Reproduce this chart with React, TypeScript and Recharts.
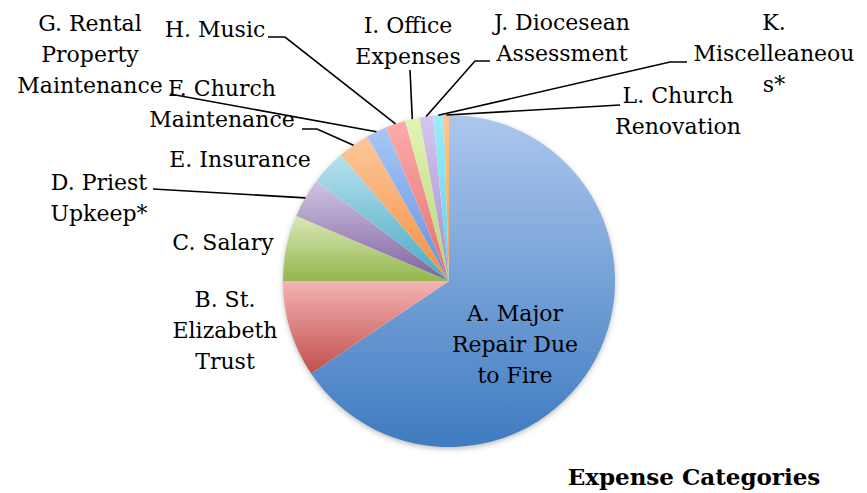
import { PieChart, Pie, Cell } from "recharts";

const categories = [
  "A. Major Repair Due to Fire",
  "B. St. Elizabeth Trust",
  "C. Salary",
  "D. Priest Upkeep*",
  "E. Insurance",
  "F. Church Maintenance",
  "G. Rental Property Maintenance",
  "H. Music",
  "I. Office Expenses",
  "J. Diocesean Assessment",
  "K. Miscelleaneous*",
  "L. Church Renovation",
];

// share of total expenses, %
const amounts = [65.6, 9.4, 6.4, 3.9, 3.4, 3.1, 2.0, 1.95, 1.4, 1.3, 1.05, 0.5];

// label text, broken the way the original wraps it
const labelLines = [
  ["A. Major", "Repair Due", "to Fire"],
  ["B. St.", "Elizabeth", "Trust"],
  ["C. Salary"],
  ["D. Priest", "Upkeep*"],
  ["E. Insurance"],
  ["F. Church", "Maintenance"],
  ["G. Rental", "Property", "Maintenance"],
  ["H. Music"],
  ["I. Office", "Expenses"],
  ["J. Diocesean", "Assessment"],
  ["K.", "Miscelleaneou", "s*"],
  ["L. Church", "Renovation"],
];

const topColors = [
  "#adc7ee", "#f4b3b2", "#d9e8b6", "#cfc4e2", "#b6e1ee", "#fdc79c",
  "#a9c7f7", "#ffabab", "#e3f5b2", "#d6c6ef", "#a0ebf8", "#ffc68c",
];
const bottomColors = [
  "#3e7bc0", "#c0504d", "#94b64e", "#7e63a0", "#47a9c3", "#f38f3e",
  "#5f92de", "#e0706e", "#b4d478", "#a58bcf", "#5ccfe6", "#f5a050",
];

// where each label sits (text centre x, first baseline y) and its leader bends
const labelLayout: { x: number; y: number; leader?: number[][] }[] = [
  { x: 515, y: 321 },
  { x: 225, y: 307 },
  { x: 223, y: 250 },
  { x: 99, y: 190, leader: [[153, 189]] },
  { x: 240, y: 167 },
  { x: 222, y: 96, leader: [[302, 129], [317, 129]] },
  { x: 90, y: 31, leader: [[170, 94]] },
  { x: 215, y: 37, leader: [[268, 37], [285, 37]] },
  { x: 408, y: 33, leader: [[410, 70]] },
  { x: 562, y: 30, leader: [[490, 61], [475, 61]] },
  { x: 774, y: 30, leader: [[687, 62], [670, 62]] },
  { x: 678, y: 103, leader: [[620, 105]] },
];

const data = categories.map((name, i) => ({ name, value: amounts[i] }));
const total = [{ name: "all", value: amounts.reduce((a, b) => a + b, 0) }];

const FONT = "'DejaVu Serif', serif";

const renderLabel = (props: any) => {
  const { cx, cy, midAngle, outerRadius, index } = props;
  const spot = labelLayout[index];
  const lines = labelLines[index];
  const rad = Math.PI / 180;
  const ex = cx + outerRadius * Math.cos(-midAngle * rad);
  const ey = cy + outerRadius * Math.sin(-midAngle * rad);
  const pts = spot.leader ? [...spot.leader, [ex, ey]] : null;
  return (
    <g key={`lbl-${index}`}>
      {pts && (
        <polyline
          points={pts.map((p) => p.join(",")).join(" ")}
          fill="none"
          stroke="#000"
          strokeWidth={1.6}
        />
      )}
      <text
        x={spot.x}
        y={spot.y}
        textAnchor="middle"
        fill="#000"
        style={{ fontFamily: FONT, fontSize: 22 }}
      >
        {lines.map((l, i) => (
          <tspan key={i} x={spot.x} dy={i === 0 ? 0 : 31}>
            {l}
          </tspan>
        ))}
      </text>
    </g>
  );
};

export default function App() {
  return (
    <div style={{ position: "relative", width: 867, height: 493, background: "#fff" }}>
      <style>{`body{margin:0}`}</style>
      <PieChart width={867} height={493} margin={{ top: 0, right: 0, bottom: 0, left: 0 }}>
        <defs>
          {topColors.map((c, i) => (
            <linearGradient key={i} id={`grad${i}`} x1="0" y1="0" x2="0" y2="1">
              <stop offset="0" stopColor={c} />
              <stop offset="1" stopColor={bottomColors[i]} />
            </linearGradient>
          ))}
          <filter id="pieShadow" x="-20%" y="-20%" width="140%" height="140%">
            <feDropShadow dx="0" dy="2" stdDeviation="3" floodColor="#000" floodOpacity="0.35" />
          </filter>
        </defs>
        <Pie
          data={total}
          dataKey="value"
          cx={449}
          cy={281}
          outerRadius={165}
          startAngle={90}
          endAngle={-270}
          stroke="none"
          isAnimationActive={false}
        >
          <Cell fill="#fff" filter="url(#pieShadow)" />
        </Pie>
        <Pie
          data={data}
          dataKey="value"
          nameKey="name"
          cx={449}
          cy={281}
          outerRadius={166}
          startAngle={90}
          endAngle={-270}
          stroke="none"
          label={renderLabel}
          labelLine={false}
          isAnimationActive={false}
        >
          {data.map((d, i) => (
            <Cell key={d.name} fill={`url(#grad${i})`} />
          ))}
        </Pie>
      </PieChart>
      <div
        style={{
          position: "absolute",
          left: 564,
          top: 463,
          width: 260,
          textAlign: "center",
          fontFamily: FONT,
          fontWeight: "bold",
          fontSize: 23,
          lineHeight: "28px",
          color: "#000",
        }}
      >
        Expense Categories
      </div>
    </div>
  );
}
